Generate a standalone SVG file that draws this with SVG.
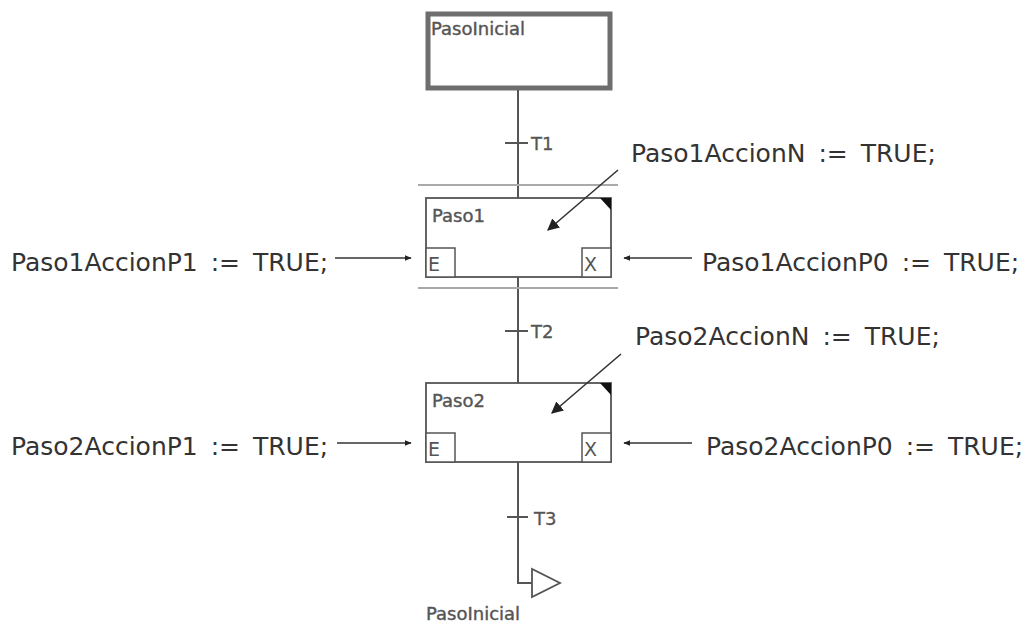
<svg xmlns="http://www.w3.org/2000/svg" width="1025" height="626" viewBox="0 0 1025 626">
<defs>
<style>
.lbl{font-family:"DejaVu Sans",Verdana,sans-serif;font-size:25px;fill:#333;word-spacing:5px}
.stp{font-family:"DejaVu Sans",Verdana,sans-serif;font-size:18px;fill:#555;stroke:#555;stroke-width:0.4}
.ex{font-family:"DejaVu Sans",Verdana,sans-serif;font-size:19px;fill:#555}
.tr{font-family:"DejaVu Sans",Verdana,sans-serif;font-size:18px;fill:#555;stroke:#555;stroke-width:0.3}
.box{fill:#fff;stroke:#555;stroke-width:1.8}
.sub{fill:#fff;stroke:#555;stroke-width:1.5}
.wire{stroke:#555;stroke-width:2;fill:none}
.sep{stroke:#aaa;stroke-width:2}
.arr{stroke:#333;stroke-width:1.6;fill:none;marker-end:url(#ah)}
.darr{stroke:#333;stroke-width:1.6;fill:none;marker-end:url(#dh)}
</style>
<marker id="ah" viewBox="0 0 10 10" refX="9" refY="5" markerWidth="7" markerHeight="7" markerUnits="userSpaceOnUse" orient="auto"><path d="M0,1 L10,5 L0,9 Z" fill="#222"/></marker>
<marker id="dh" viewBox="0 0 10 10" refX="9" refY="5" markerWidth="12" markerHeight="12" markerUnits="userSpaceOnUse" orient="auto"><path d="M0,0 L10,5 L0,10 Z" fill="#222"/></marker>
</defs>
<rect width="1025" height="626" fill="#fff"/>

<g id="PasoInicial">
<rect x="428" y="14" width="182" height="74" fill="#fff" stroke="#6e6e6e" stroke-width="5"/>
<text class="stp" x="431" y="35">PasoInicial</text>
</g>

<g id="Paso1">
<rect class="box" x="426" y="198" width="185" height="79"/>
<path d="M600,198 L611,198 L611,210 Z" fill="#111"/>
<text class="stp" x="432" y="222">Paso1</text>
<rect class="sub" x="426" y="248" width="29" height="29"/>
<text class="ex" x="428" y="271">E</text>
<rect class="sub" x="582" y="248" width="29" height="29"/>
<text class="ex" x="584" y="271">X</text>
</g>

<g id="Paso2">
<rect class="box" x="426" y="383" width="185" height="79"/>
<path d="M600,383 L611,383 L611,395 Z" fill="#111"/>
<text class="stp" x="432" y="407">Paso2</text>
<rect class="sub" x="426" y="433" width="29" height="29"/>
<text class="ex" x="428" y="456">E</text>
<rect class="sub" x="582" y="433" width="29" height="29"/>
<text class="ex" x="584" y="456">X</text>
</g>

<g id="connectors">
<line class="wire" x1="518" y1="90" x2="518" y2="198"/>
<line class="wire" x1="505" y1="143" x2="528" y2="143"/>
<line class="wire" x1="518" y1="277" x2="518" y2="383"/>
<line class="wire" x1="505" y1="331" x2="528" y2="331"/>
<polyline class="wire" points="518,462 518,583 532,583"/>
<line class="wire" x1="507" y1="517" x2="528" y2="517"/>
<line class="sep" x1="418" y1="185" x2="618" y2="185"/>
<line class="sep" x1="418" y1="288" x2="618" y2="288"/>
<line class="arr" x1="335" y1="258" x2="411" y2="258"/>
<line class="arr" x1="692" y1="258" x2="624" y2="258"/>
<line class="arr" x1="337" y1="443" x2="411" y2="443"/>
<line class="arr" x1="692" y1="443" x2="624" y2="443"/>
<line class="darr" x1="618" y1="170" x2="548" y2="230"/>
<line class="darr" x1="621" y1="354" x2="552" y2="413"/>
</g>

<g id="jump">
<polygon points="532,569 532,597 560,583" fill="#fff" stroke="#555" stroke-width="1.8"/>
<text class="stp" x="426" y="620">PasoInicial</text>
</g>

<g id="transitions">
<text class="tr" x="531" y="150">T1</text>
<text class="tr" x="531" y="338">T2</text>
<text class="tr" x="534" y="525">T3</text>
</g>

<g id="labels">
<text class="lbl" x="631" y="162">Paso1AccionN := TRUE;</text>
<text class="lbl" x="11" y="271">Paso1AccionP1 := TRUE;</text>
<text class="lbl" x="702" y="271">Paso1AccionP0 := TRUE;</text>
<text class="lbl" x="635" y="345">Paso2AccionN := TRUE;</text>
<text class="lbl" x="11" y="455">Paso2AccionP1 := TRUE;</text>
<text class="lbl" x="706" y="455">Paso2AccionP0 := TRUE;</text>
</g>
</svg>
